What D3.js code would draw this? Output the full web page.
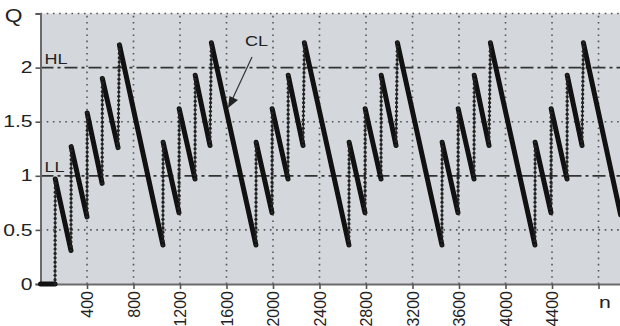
<!DOCTYPE html>
<html><head><meta charset="utf-8">
<script src="https://cdn.jsdelivr.net/npm/d3@7/dist/d3.min.js"></script>
<style>
html,body{margin:0;padding:0;background:#fff;}
svg{display:block;font-family:"Liberation Sans",Arial,sans-serif;}
</style></head>
<body>
<svg id="chart" width="620" height="326"></svg>
<script>
// ---- data (turning points of the Q sawtooth) ----
const pointN = [0,125,127,262,264,400,402,530,532,667,679,1053,
  1055,1191,1193,1329,1331,1458,1470,1853,
  1855,1991,1993,2129,2131,2258,2270,2653,
  2655,2791,2793,2929,2931,3058,3070,3453,
  3455,3591,3593,3729,3731,3858,3870,4253,
  4255,4391,4393,4529,4531,4658,4670,4990];
const pointQ = [0,0,0.97,0.31,1.27,0.62,1.58,0.93,1.90,1.26,2.21,0.36,
  1.31,0.66,1.62,0.97,1.93,1.28,2.23,0.36,
  1.31,0.66,1.62,0.97,1.93,1.28,2.23,0.36,
  1.31,0.66,1.62,0.97,1.93,1.28,2.23,0.36,
  1.31,0.66,1.62,0.97,1.93,1.28,2.23,0.36,
  1.31,0.66,1.62,0.97,1.93,1.28,2.23,0.64];
const xTicks = [400,800,1200,1600,2000,2400,2800,3200,3600,4000,4400,4800];
const xTickLabels = ["400","800","1200","1600","2000","2400","2800","3200","3600","4000","4400","n"];
const yTicks = [0,0.5,1,1.5,2,2.5];
const yTickLabels = ["0","0.5","1","1.5","2","Q"];
const levelValues = [1,2];
const levelNames = ["LL","HL"];
const dottedLevels = [0.5,1.5,2.5];

const svg = d3.select("#chart");
const x = d3.scaleLinear().domain([0,4990]).range([40.5,620.6]);
const y = d3.scaleLinear().domain([0,2.5]).range([284,13.5]);

// plot background
svg.append("rect").attr("x",x(0)).attr("y",y(2.5)).attr("width",620-x(0)).attr("height",y(0)-y(2.5)).attr("fill","#d4d8dc");

// dotted grid
svg.append("g").selectAll("line").data(xTicks).join("line")
  .attr("x1",d=>x(d)).attr("x2",d=>x(d)).attr("y1",y(0)).attr("y2",y(2.5))
  .attr("stroke","#555").attr("stroke-width",1.6).attr("stroke-dasharray","1.6,4.6");
svg.append("g").selectAll("line").data(dottedLevels).join("line")
  .attr("x1",x(0)).attr("x2",620).attr("y1",d=>y(d)).attr("y2",d=>y(d))
  .attr("stroke","#555").attr("stroke-width",1.6).attr("stroke-dasharray","1.6,4.6");

// dash-dot level lines
svg.append("g").selectAll("line").data(levelValues).join("line")
  .attr("x1",x(0)).attr("x2",620).attr("y1",d=>y(d)).attr("y2",d=>y(d))
  .attr("stroke","#333").attr("stroke-width",1.7).attr("stroke-dasharray","13,4,3,4");

// axes
const yAxis = d3.axisLeft(y).tickValues(yTicks).tickFormat((d,i)=>yTickLabels[i]).tickSize(5).tickPadding(3);
const gy = svg.append("g").attr("transform",`translate(${x(0)},0)`).call(yAxis);
gy.select(".domain").attr("stroke","#6a6a6a").attr("stroke-width",2);
gy.selectAll(".tick line").attr("stroke","#555").attr("stroke-width",1.6);
gy.selectAll(".tick text").attr("font-size",16).attr("fill","#222")
  .attr("font-family","Liberation Sans, Arial, sans-serif")
  .attr("x",0).attr("transform","translate(-8,0) scale(1.32,1)");
gy.selectAll(".tick text").filter((d,i)=>yTickLabels[i]==="Q")
  .attr("font-size",19).attr("transform","translate(-18,2) scale(1.2,1)");

const xAxis = d3.axisBottom(x).tickValues(xTicks).tickFormat((d,i)=>xTickLabels[i]).tickSize(5).tickSizeOuter(0);
const gx = svg.append("g").attr("transform",`translate(0,${y(0)})`).call(xAxis);
gx.select(".domain").attr("stroke","#6a6a6a").attr("stroke-width",2);
gx.selectAll(".tick line").attr("stroke","#555").attr("stroke-width",1.6);
gx.selectAll(".tick text").attr("font-size",16).attr("fill","#222")
  .attr("font-family","Liberation Sans, Arial, sans-serif")
  .each(function(d,i){
    const t = d3.select(this);
    if (xTickLabels[i]==="n") {
      t.attr("transform","translate(6,4) scale(1.25,1)").attr("dy","0.71em").attr("text-anchor","middle").attr("font-size",17);
    } else {
      t.attr("y",null).attr("dy","0.36em").attr("text-anchor","end")
       .attr("transform","translate(0,7) rotate(-90)");
    }
  });

// series: declines thick, rises thin with markers
const pts = pointN.map((n,i)=>({n, q:pointQ[i]}));
const segs = [];
for (let i=1;i<pts.length;i++) segs.push({a:pts[i-1], b:pts[i], rise: pts[i].q>pts[i-1].q});
const gS = svg.append("g");
gS.selectAll("line.seg").data(segs).join("line").attr("class","seg")
  .attr("x1",d=>x(d.a.n)).attr("y1",d=>y(d.a.q)).attr("x2",d=>x(d.b.n)).attr("y2",d=>y(d.b.q))
  .attr("stroke","#111").attr("stroke-linecap","round")
  .attr("stroke-width",d=>d.rise?1:5);
const riseDots = [];
segs.filter(s=>s.rise).forEach(s=>{
  const y1=y(s.a.q), y2=y(s.b.q), x1=x(s.a.n), x2=x(s.b.n);
  const k = Math.max(1, Math.round((y1-y2)/4.3));
  for (let j=0;j<=k;j++) riseDots.push([x1+(x2-x1)*j/k, y1+(y2-y1)*j/k]);
});
gS.selectAll("circle").data(riseDots).join("circle")
  .attr("cx",d=>d[0]).attr("cy",d=>d[1]).attr("r",1.6).attr("fill","#222");

// level labels
svg.append("g").selectAll("text").data(levelValues).join("text")
  .attr("transform",d=>`translate(${x(0)+4},${y(d)-4}) scale(1.2,1)`).text((d,i)=>levelNames[i])
  .attr("font-size",15).attr("fill","#222");

// CL annotation
svg.append("text").attr("transform","translate(245,46) scale(1.2,1)").text("CL").attr("font-size",15).attr("fill","#222");
svg.append("line").attr("x1",252).attr("y1",57).attr("x2",232).attr("y2",100)
  .attr("stroke","#333").attr("stroke-width",1.2);
svg.append("path").attr("d","M228,108 L229.5,96 L238,100 Z").attr("fill","#222");
</script>
</body></html>
